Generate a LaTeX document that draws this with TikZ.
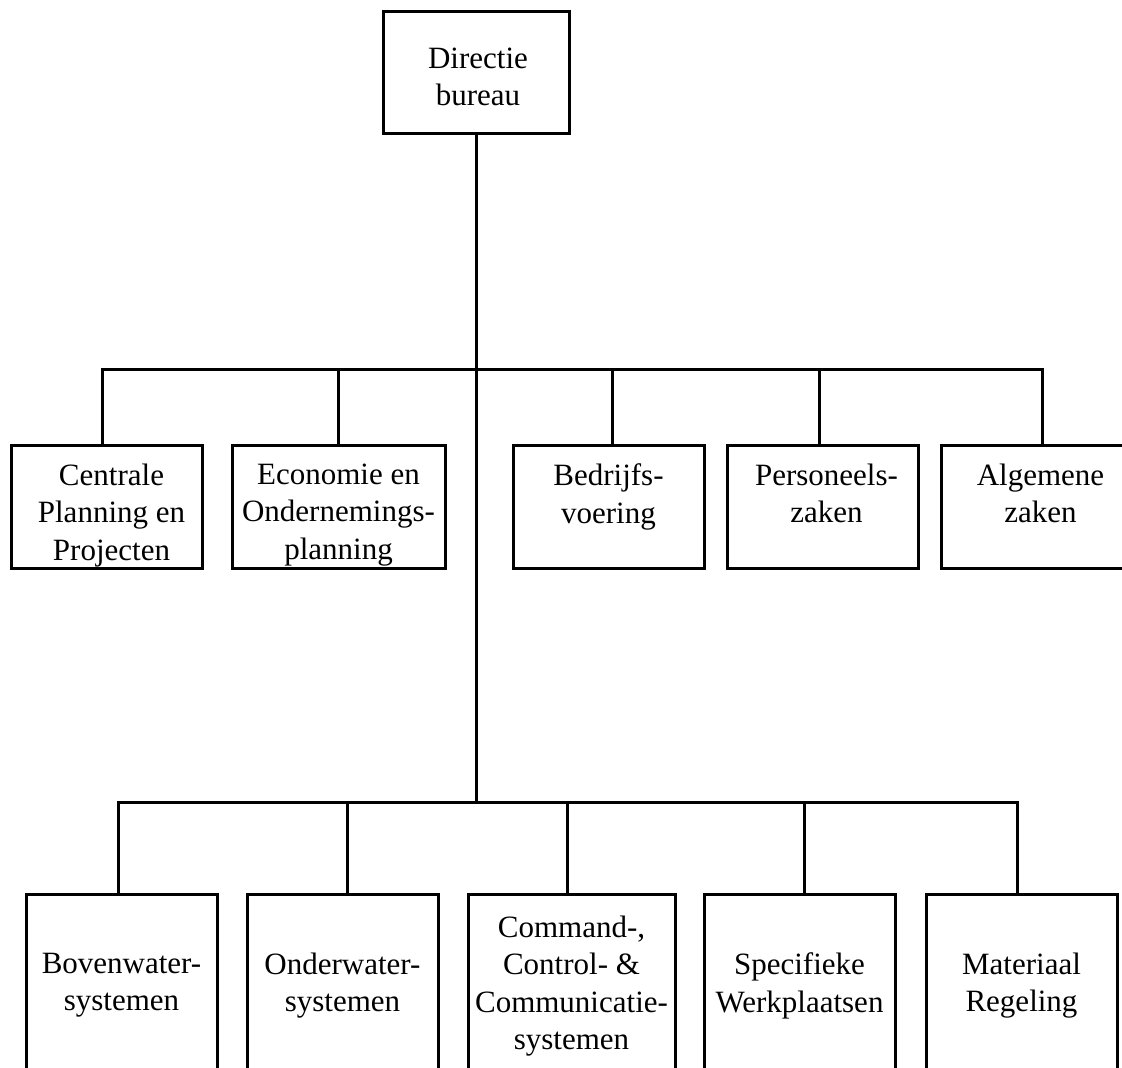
\documentclass[tikz,border=0pt]{standalone}
\usepackage{fontspec}
\setmainfont{Liberation Serif}
\begin{document}
\begin{tikzpicture}[x=1pt, y=-1pt,
  unit/.style={draw, line width=3pt, rectangle, inner sep=0pt, minimum height=123pt},
  tall/.style={draw, line width=3pt, rectangle, inner sep=0pt, minimum height=190pt},
  lbl/.style={inner sep=0pt, anchor=north, align=center,
    font=\fontsize{31}{37.5}\selectfont, execute at begin node=\strut},
  link/.style={line width=3pt, line cap=rect}]
\useasboundingbox (0,0) rectangle (1122,1068);

% head office
\node[unit, minimum width=186pt, minimum height=122pt] (dir) at (476,72) {};
\node[lbl] (dirt) at ([xshift=2pt,yshift=-38pt]dir.north) {Directie\\bureau};

% staff departments
\node[unit, minimum width=191pt] (cpp) at (106.5,506.5) {};
\node[unit, minimum width=213pt] (eop) at (338.5,506.5) {};
\node[unit, minimum width=191pt] (bv)  at (608.5,506.5) {};
\node[unit, minimum width=191pt] (pz)  at (822.5,506.5) {};
\node[unit, minimum width=191pt] (az)  at (1036.5,506.5) {};

\node[lbl] (cppt) at ([xshift=5pt,yshift=-20pt]cpp.north) {Centrale\\Planning en\\Projecten};
\node[lbl] (eopt) at ([yshift=-20pt]eop.north) {Economie en\\Ondernemings-\\planning};
\node[lbl] (bvt)  at ([yshift=-20pt]bv.north) {Bedrijfs-\\voering};
\node[lbl] (pzt)  at ([xshift=4pt,yshift=-20pt]pz.north) {Personeels-\\zaken};
\node[lbl] (azt)  at ([xshift=4pt,yshift=-20pt]az.north) {Algemene\\zaken};

% line departments
\node[tall, minimum width=191pt] (bws) at (121.5,989) {};
\node[tall, minimum width=191pt] (ows) at (342.5,989) {};
\node[tall, minimum width=207pt] (ccc) at (571.5,989) {};
\node[tall, minimum width=191pt] (swp) at (799.5,989) {};
\node[tall, minimum width=191pt] (mr)  at (1021.5,989) {};

\node[lbl] (bwst) at ([yshift=-60pt]bws.north) {Bovenwater-\\systemen};
\node[lbl] (owst) at ([yshift=-60pt]ows.north) {Onderwater-\\systemen};
\node[lbl] (ccct) at ([yshift=-23pt]ccc.north) {Command-,\\Control- \&\\Communicatie-\\systemen};
\node[lbl] (swpt) at ([yshift=-60pt]swp.north) {Specifieke\\Werkplaatsen};
\node[lbl] (mrt)  at ([yshift=-60pt]mr.north) {Materiaal\\Regeling};

% junctions on the trunk
\coordinate (midbar) at (476,369);
\coordinate (lowbar) at (476,802);

\draw[link] (dir.south) -- (lowbar);

\draw[link] (midbar) -| ([xshift=-4pt]cpp.north);
\draw[link] (midbar) -| (eop.north);
\draw[link] (midbar) -| ([xshift=4pt]bv.north);
\draw[link] (midbar) -| ([xshift=-3.5pt]pz.north);
\draw[link] (midbar) -| ([xshift=5.5pt]az.north);

\draw[link] (lowbar) -| ([xshift=-3.5pt]bws.north);
\draw[link] (lowbar) -| ([xshift=4.5pt]ows.north);
\draw[link] (lowbar) -| ([xshift=-4.5pt]ccc.north);
\draw[link] (lowbar) -| ([xshift=4.5pt]swp.north);
\draw[link] (lowbar) -| ([xshift=-4.5pt]mr.north);
\end{tikzpicture}
\end{document}
